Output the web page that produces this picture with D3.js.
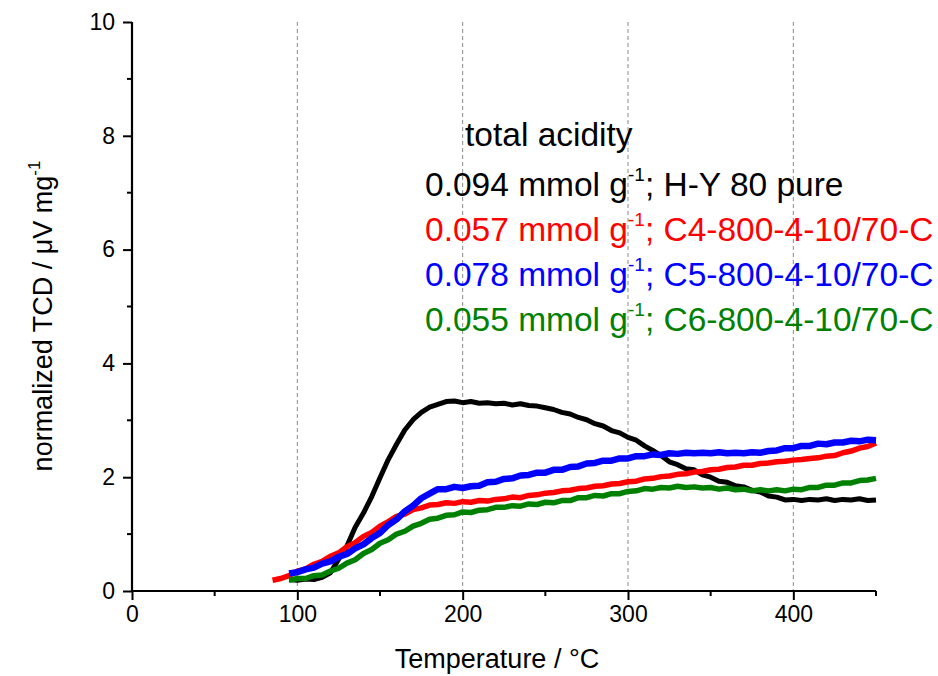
<!DOCTYPE html>
<html>
<head>
<meta charset="utf-8">
<script src="https://cdn.jsdelivr.net/npm/d3@7"></script>
<style>
  html, body { margin: 0; padding: 0; background: #fff; }
  svg { display: block; }
  text { font-family: "Liberation Sans", Arial, sans-serif; }
</style>
</head>
<body>
<svg id="chart" width="938" height="676"></svg>
<script>
// ---------- data ----------
const temps = [85, 90, 95, 100, 105, 110, 115, 120, 125, 130, 135, 140, 145, 150, 155, 160, 165, 170, 175, 180,
  185, 190, 195, 200, 205, 210, 215, 220, 225, 230, 235, 240, 245, 250, 255, 260, 265, 270, 275, 280,
  285, 290, 295, 300, 305, 310, 315, 320, 325, 330, 335, 340, 345, 350, 355, 360, 365, 370, 375, 380,
  385, 390, 395, 400, 405, 410, 415, 420, 425, 430, 435, 440, 445, 450];

const hy80 = [null, null, 0.20, 0.19, 0.21, 0.20, 0.24, 0.32, 0.56, 0.79, 1.12, 1.37, 1.66, 1.99, 2.31, 2.58, 2.83, 3.01, 3.14, 3.23,
  3.28, 3.33, 3.34, 3.31, 3.33, 3.30, 3.31, 3.29, 3.30, 3.27, 3.29, 3.26, 3.25, 3.22, 3.19, 3.14, 3.11, 3.05, 3.01, 2.94,
  2.90, 2.82, 2.78, 2.70, 2.65, 2.55, 2.47, 2.38, 2.27, 2.22, 2.15, 2.13, 2.04, 2.00, 1.93, 1.91, 1.85, 1.83, 1.77, 1.74,
  1.67, 1.65, 1.60, 1.61, 1.59, 1.61, 1.60, 1.62, 1.59, 1.61, 1.60, 1.62, 1.59, 1.60];

const c4 = [0.19, 0.22, 0.27, 0.35, 0.39, 0.47, 0.52, 0.61, 0.67, 0.78, 0.85, 0.96, 1.03, 1.14, 1.22, 1.31, 1.35, 1.43, 1.46, 1.51,
  1.52, 1.55, 1.54, 1.57, 1.56, 1.59, 1.58, 1.61, 1.62, 1.65, 1.64, 1.68, 1.69, 1.72, 1.73, 1.76, 1.77, 1.80, 1.81, 1.84,
  1.85, 1.88, 1.89, 1.92, 1.93, 1.97, 1.98, 2.01, 2.02, 2.05, 2.06, 2.09, 2.10, 2.13, 2.14, 2.17, 2.18, 2.21, 2.21, 2.24,
  2.25, 2.27, 2.28, 2.30, 2.31, 2.33, 2.34, 2.37, 2.38, 2.43, 2.46, 2.51, 2.54, 2.60];

const c5 = [null, null, 0.31, 0.33, 0.38, 0.41, 0.48, 0.52, 0.60, 0.65, 0.75, 0.82, 0.93, 1.02, 1.16, 1.26, 1.40, 1.50, 1.63, 1.71,
  1.79, 1.79, 1.83, 1.81, 1.84, 1.85, 1.91, 1.92, 1.97, 1.98, 2.03, 2.04, 2.08, 2.08, 2.13, 2.13, 2.18, 2.19, 2.24, 2.25,
  2.29, 2.29, 2.33, 2.33, 2.37, 2.37, 2.40, 2.39, 2.42, 2.41, 2.43, 2.42, 2.43, 2.42, 2.44, 2.42, 2.43, 2.42, 2.44, 2.43,
  2.46, 2.47, 2.51, 2.51, 2.55, 2.55, 2.59, 2.58, 2.61, 2.61, 2.64, 2.63, 2.66, 2.65];

const c6 = [null, null, 0.19, 0.22, 0.22, 0.27, 0.28, 0.35, 0.40, 0.49, 0.55, 0.66, 0.73, 0.84, 0.90, 1.00, 1.05, 1.14, 1.19, 1.26,
  1.28, 1.33, 1.34, 1.39, 1.38, 1.42, 1.43, 1.47, 1.47, 1.50, 1.49, 1.53, 1.52, 1.56, 1.55, 1.59, 1.59, 1.64, 1.64, 1.68,
  1.67, 1.71, 1.71, 1.75, 1.76, 1.80, 1.79, 1.82, 1.81, 1.84, 1.82, 1.83, 1.81, 1.82, 1.79, 1.81, 1.78, 1.79, 1.76, 1.78,
  1.76, 1.78, 1.76, 1.79, 1.78, 1.82, 1.82, 1.86, 1.86, 1.90, 1.90, 1.94, 1.95, 1.98];

const seriesNames = ["H-Y 80 pure", "C4-800-4-10/70-C", "C5-800-4-10/70-C", "C6-800-4-10/70-C"];
const acidity = ["0.094", "0.057", "0.078", "0.055"];
const colors = ["#000000", "#ff0000", "#0000ff", "#008000"];
const seriesValues = [hy80, c4, c5, c6];

const xTicks = [0, 100, 200, 300, 400];
const xMinorTicks = [50, 150, 250, 350, 450];
const yTicks = [0, 2, 4, 6, 8, 10];
const yMinorTicks = [1, 3, 5, 7, 9];
const gridX = [100, 200, 300, 400];

// ---------- layout ----------
const svg = d3.select("#chart");
const x = d3.scaleLinear().domain([0, 450]).range([132, 876]);
const y = d3.scaleLinear().domain([0, 10]).range([591, 22]);

// dashed vertical grid lines
svg.append("g").selectAll("line").data(gridX).join("line")
  .attr("x1", d => x(d)).attr("x2", d => x(d))
  .attr("y1", y(10)).attr("y2", y(0))
  .attr("stroke", "#8a8a8a").attr("stroke-width", 1).attr("stroke-dasharray", "4,3");

// series
const line = d3.line()
  .defined(d => d.v !== null)
  .x(d => x(d.t)).y(d => y(d.v))
  .curve(d3.curveLinear);

const widths = [5, 5.5, 6.5, 5.5];
seriesValues.forEach((vals, i) => {
  const pts = temps.map((t, k) => ({ t: t, v: vals[k] }));
  svg.append("path").datum(pts)
    .attr("d", line)
    .attr("fill", "none")
    .attr("stroke", colors[i])
    .attr("stroke-width", widths[i])
    .attr("stroke-linejoin", "round");
});

// axes
const xAxis = d3.axisBottom(x).tickValues(xTicks).tickSize(9).tickSizeOuter(0).tickPadding(6).tickFormat(d3.format("d"));
const gx = svg.append("g").attr("transform", `translate(0,${y(0)})`).call(xAxis);
gx.append("g").selectAll("line").data(xMinorTicks).join("line")
  .attr("x1", d => x(d)).attr("x2", d => x(d)).attr("y1", 0).attr("y2", 5)
  .attr("stroke", "#000").attr("stroke-width", 2);

const yAxis = d3.axisLeft(y).tickValues(yTicks).tickSize(9).tickSizeOuter(0).tickPadding(8).tickFormat(d3.format("d"));
const gy = svg.append("g").attr("transform", `translate(${x(0)},0)`).call(yAxis);
gy.append("g").selectAll("line").data(yMinorTicks).join("line")
  .attr("x1", 0).attr("x2", -5).attr("y1", d => y(d)).attr("y2", d => y(d))
  .attr("stroke", "#000").attr("stroke-width", 2);

[gx, gy].forEach(g => {
  g.select(".domain").attr("stroke", "#000").attr("stroke-width", 2.2);
  g.selectAll(".tick line").attr("stroke", "#000").attr("stroke-width", 2);
  g.selectAll(".tick text").attr("font-size", 23).attr("fill", "#000")
    .attr("font-family", "Liberation Sans, Arial, sans-serif");
});
gx.select(".domain").attr("d", `M${x(0) - 1},0H${x(450)}`);
gy.select(".domain").attr("d", `M0,${y(10)}V${y(0) + 1}`);

// axis titles
svg.append("text")
  .attr("x", 497).attr("y", 668)
  .attr("text-anchor", "middle").attr("font-size", 27).attr("fill", "#000")
  .text("Temperature / °C");

const yt = svg.append("text")
  .attr("transform", "translate(52,316) rotate(-90)")
  .attr("text-anchor", "middle").attr("font-size", 27).attr("fill", "#000");
yt.append("tspan").text("normalized TCD / μV mg");
yt.append("tspan").attr("font-size", 17).attr("dy", -12).text("-1");

// legend
svg.append("text")
  .attr("x", 465).attr("y", 146)
  .attr("font-size", 33.5).attr("fill", "#000")
  .text("total acidity");

const legendBase = [196, 241, 286, 331];
seriesNames.forEach((name, i) => {
  const t = svg.append("text")
    .attr("x", 425).attr("y", legendBase[i])
    .attr("font-size", 33.5).attr("fill", colors[i]);
  t.append("tspan").text(acidity[i] + " mmol g");
  t.append("tspan").attr("font-size", 19).attr("dy", -15).text("-1");
  t.append("tspan").attr("dy", 15).text("; " + name);
});
</script>
</body>
</html>
